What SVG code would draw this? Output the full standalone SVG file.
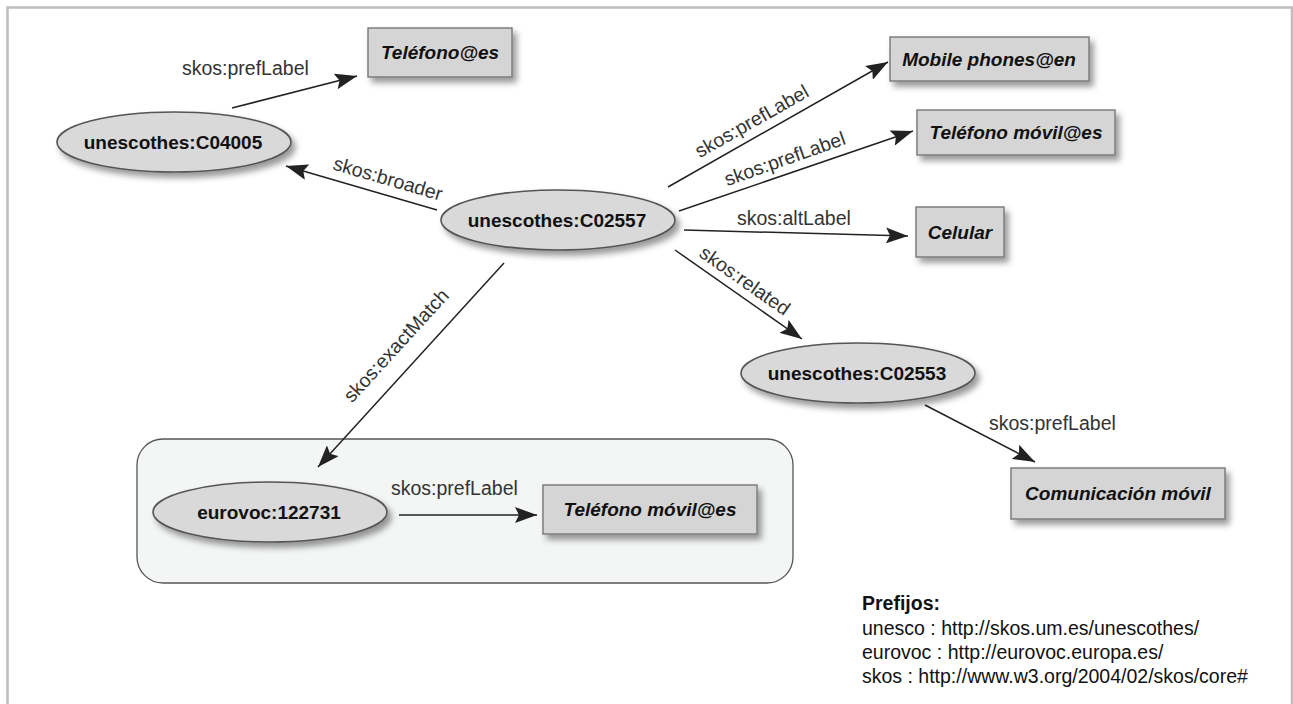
<svg xmlns="http://www.w3.org/2000/svg" width="1293" height="704" viewBox="0 0 1293 704">
<style>
.frame{fill:none;stroke:#bdbdbd;stroke-width:2.5}
.ell{fill:#d9d9d9;stroke:#555;stroke-width:1.6;filter:url(#sh)}
.box{fill:#d5d5d5;stroke:#777;stroke-width:1.4;filter:url(#sh)}
.nt{font-family:"Liberation Sans",Arial,sans-serif;font-weight:bold;font-size:19px;fill:#111;text-anchor:middle}
.bt{font-family:"Liberation Sans",Arial,sans-serif;font-weight:bold;font-style:italic;font-size:19px;fill:#111;text-anchor:middle}
.el{font-family:"Liberation Sans",Arial,sans-serif;font-size:19.5px;fill:#333}
.edge{stroke:#222;stroke-width:1.5;fill:none;marker-end:url(#ah)}
.pre{font-family:"Liberation Sans",Arial,sans-serif;font-size:19.5px;fill:#111}
</style>
<defs>
<filter id="sh" x="-20%" y="-30%" width="150%" height="180%">
<feDropShadow dx="4" dy="5" stdDeviation="3" flood-color="#000" flood-opacity="0.4"/>
</filter>
<marker id="ah" viewBox="0 0 22 16" refX="22" refY="8" markerWidth="22" markerHeight="16" markerUnits="userSpaceOnUse" orient="auto">
<path d="M0,0 L22,8 L0,16 L4,8 Z" fill="#222"/>
</marker>
</defs>
<rect width="1293" height="704" fill="#fff"/>
<path class="frame" d="M7.5,704 L7.5,7.5 L1292,7.5 L1292,704"/>

<g id="group-eurovoc">
<rect x="137" y="439" width="656" height="144" rx="26" ry="26" fill="#f4f5f5" stroke="#555" stroke-width="1.3"/>
</g>

<g id="connectors">
<line class="edge" x1="232" y1="108" x2="357" y2="76"/>
<text class="el" x="182" y="75">skos:prefLabel</text>
<line class="edge" x1="437" y1="210" x2="286" y2="166"/>
<text class="el" transform="translate(386,185) rotate(16.2)" text-anchor="middle">skos:broader</text>
<line class="edge" x1="668" y1="187" x2="888" y2="62"/>
<text class="el" transform="translate(755,127) rotate(-29.6)" text-anchor="middle">skos:prefLabel</text>
<line class="edge" x1="679" y1="211" x2="913" y2="131"/>
<text class="el" transform="translate(787,165) rotate(-19.5)" text-anchor="middle">skos:prefLabel</text>
<line class="edge" x1="684" y1="230" x2="908" y2="236"/>
<text class="el" x="737" y="225">skos:altLabel</text>
<line class="edge" x1="675" y1="250" x2="802" y2="339"/>
<text class="el" transform="translate(741,286) rotate(35)" text-anchor="middle">skos:related</text>
<line class="edge" x1="504" y1="263" x2="318" y2="467"/>
<text class="el" transform="translate(401,350) rotate(-47.6)" text-anchor="middle">skos:exactMatch</text>
<line class="edge" x1="399" y1="515" x2="537" y2="515"/>
<text class="el" x="391" y="495">skos:prefLabel</text>
<line class="edge" x1="925" y1="405" x2="1035" y2="462"/>
<text class="el" x="989" y="430">skos:prefLabel</text>
</g>

<g id="n-telefono-es">
<rect class="box" x="368" y="28" width="144" height="49"/>
<text class="bt" x="440" y="59">Teléfono@es</text>
</g>
<g id="n-c04005">
<ellipse class="ell" cx="174" cy="142" rx="117" ry="30"/>
<text class="nt" x="173" y="149">unescothes:C04005</text>
</g>
<g id="n-c02557">
<ellipse class="ell" cx="558" cy="220" rx="117" ry="30"/>
<text class="nt" x="557" y="227">unescothes:C02557</text>
</g>
<g id="n-mobile-en">
<rect class="box" x="890" y="37" width="199" height="44"/>
<text class="bt" x="989" y="66">Mobile phones@en</text>
</g>
<g id="n-telefono-movil-1">
<rect class="box" x="917" y="110" width="198" height="45"/>
<text class="bt" x="1016" y="139">Teléfono móvil@es</text>
</g>
<g id="n-celular">
<rect class="box" x="916" y="207" width="88" height="50"/>
<text class="bt" x="960" y="239">Celular</text>
</g>
<g id="n-c02553">
<ellipse class="ell" cx="858" cy="373" rx="117" ry="30"/>
<text class="nt" x="857" y="380">unescothes:C02553</text>
</g>
<g id="n-comunicacion">
<rect class="box" x="1011" y="468" width="214" height="51"/>
<text class="bt" x="1118" y="500">Comunicación móvil</text>
</g>
<g id="n-eurovoc">
<ellipse class="ell" cx="270" cy="512" rx="117" ry="30"/>
<text class="nt" x="269" y="519">eurovoc:122731</text>
</g>
<g id="n-telefono-movil-2">
<rect class="box" x="543" y="485" width="214" height="49"/>
<text class="bt" x="650" y="516">Teléfono móvil@es</text>
</g>

<g id="prefijos">
<text class="pre" x="862" y="610" font-weight="bold">Prefijos:</text>
<text class="pre" x="862" y="635">unesco : http://skos.um.es/unescothes/</text>
<text class="pre" x="862" y="659">eurovoc : http://eurovoc.europa.es/</text>
<text class="pre" x="862" y="683">skos : http://www.w3.org/2004/02/skos/core#</text>
</g>
</svg>
